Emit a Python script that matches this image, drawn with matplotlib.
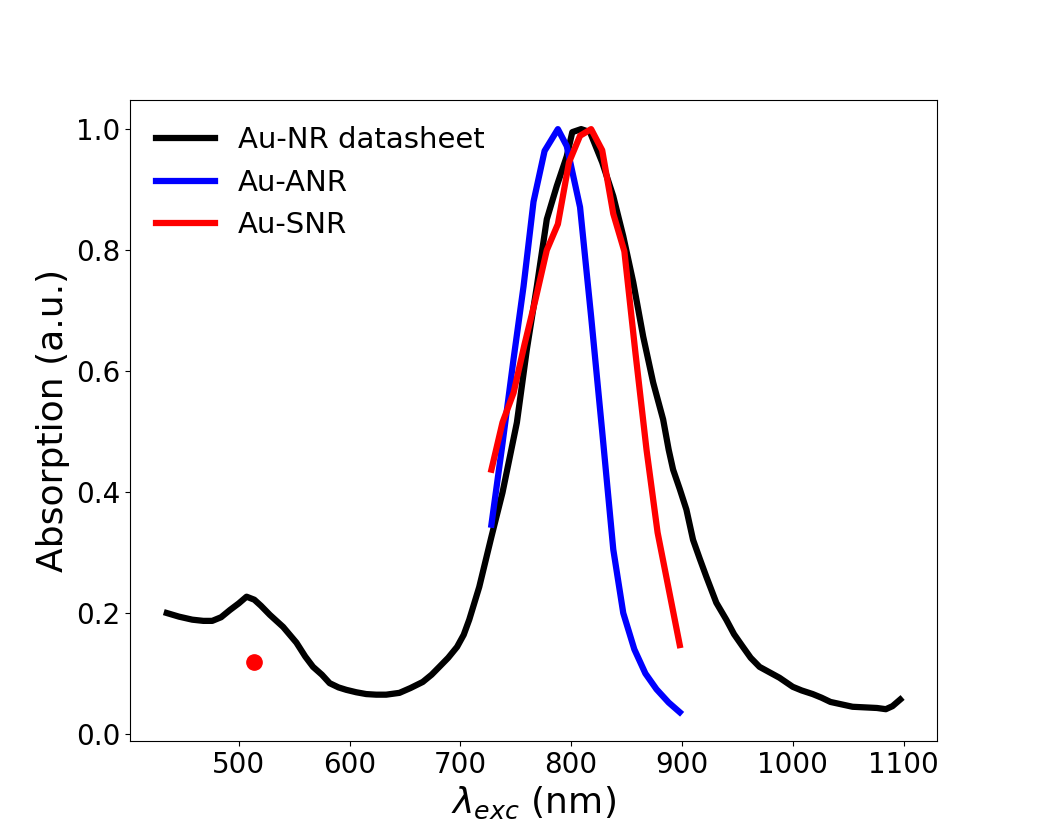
import matplotlib
matplotlib.use('Agg')
import matplotlib.pyplot as plt

# Au-NR datasheet spectrum (nm, a.u.)
wl_nr = [435, 446, 458, 468, 476, 484, 492, 500, 507, 514, 520, 528, 540, 552, 560, 567,
         575, 582, 590, 597, 606, 615, 624, 633, 645, 655, 666, 674, 681, 689, 697, 703,
         708, 717, 728, 738, 751, 760, 769, 778, 787, 796, 801, 809, 817, 828, 838, 847,
         856, 865, 874, 883, 888, 892, 898, 904, 910, 916, 922, 931, 940, 947, 955, 962,
         970, 980, 988, 1000, 1008, 1018, 1026, 1034, 1044, 1054, 1065, 1076, 1084, 1090,
         1097]
abs_nr = [0.200, 0.194, 0.189, 0.187, 0.187, 0.193, 0.205, 0.216, 0.227, 0.222, 0.212,
          0.197, 0.177, 0.151, 0.128, 0.111, 0.098, 0.084, 0.077, 0.073, 0.069, 0.066,
          0.065, 0.065, 0.068, 0.076, 0.086, 0.098, 0.111, 0.126, 0.144, 0.164, 0.189,
          0.243, 0.326, 0.399, 0.515, 0.636, 0.740, 0.851, 0.906, 0.955, 0.995, 1.000,
          0.995, 0.945, 0.889, 0.823, 0.747, 0.657, 0.581, 0.520, 0.470, 0.437, 0.405,
          0.371, 0.321, 0.290, 0.260, 0.217, 0.189, 0.165, 0.144, 0.126, 0.111, 0.101,
          0.093, 0.078, 0.072, 0.066, 0.060, 0.053, 0.049, 0.045, 0.044, 0.043, 0.041,
          0.046, 0.057]

# Au-ANR
wl_anr = [728, 738, 748, 757, 766, 776, 788, 796, 808, 818, 828, 838, 847, 857, 867, 877, 888, 898]
abs_anr = [0.346, 0.48, 0.62, 0.74, 0.88, 0.964, 1.0, 0.972, 0.871, 0.69, 0.50, 0.305,
           0.20, 0.14, 0.10, 0.074, 0.052, 0.036]

# Au-SNR
wl_snr = [728, 738, 748, 758, 768, 778, 788, 798, 808, 818, 828, 838, 848, 858, 868, 878, 888, 898]
abs_snr = [0.437, 0.515, 0.564, 0.645, 0.72, 0.80, 0.843, 0.945, 0.989, 1.0, 0.965, 0.86,
           0.798, 0.63, 0.47, 0.333, 0.24, 0.147]

# excitation point
wl_exc = [514]
abs_exc = [0.119]

fig, ax = plt.subplots(figsize=(10.41, 8.33), dpi=100)
ax.plot(wl_nr, abs_nr, color='black', lw=4.5, label='Au-NR datasheet')
ax.plot(wl_anr, abs_anr, color='blue', lw=4.5, label='Au-ANR')
ax.plot(wl_snr, abs_snr, color='red', lw=4.5, label='Au-SNR')
ax.plot(wl_exc, abs_exc, 'o', color='red', markersize=11)
ax.set_xlabel(r'$\lambda_{exc}$ (nm)', fontsize=26)
ax.set_ylabel('Absorption (a.u.)', fontsize=26)
ax.tick_params(labelsize=20)
ax.legend(loc='upper left', fontsize=21, frameon=False)
plt.savefig('out.png', dpi=100)
plt.close()
